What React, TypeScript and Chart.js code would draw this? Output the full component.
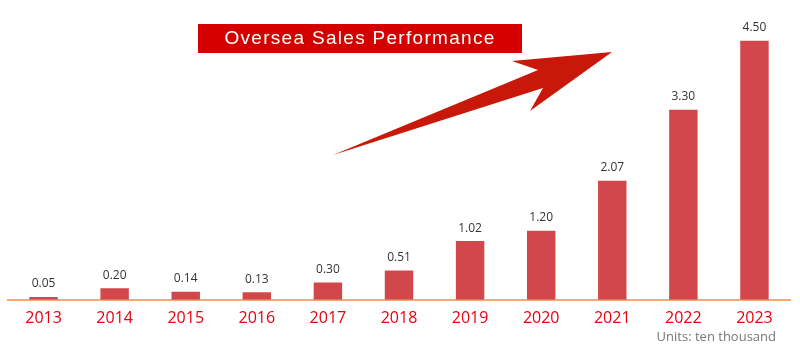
import React, { useEffect, useRef } from "react";
import { Chart, registerables } from "chart.js";

Chart.register(...registerables);

const years = ["2013", "2014", "2015", "2016", "2017", "2018", "2019", "2020", "2021", "2022", "2023"];
const sales = [0.05, 0.2, 0.14, 0.13, 0.3, 0.51, 1.02, 1.2, 2.07, 3.3, 4.5];
const titleText = "Oversea Sales Performance";
const unitsText = "Units: ten thousand";

const decoPlugin = {
  id: "deco",
  afterDatasetsDraw(chart: any) {
    const ctx = chart.ctx as CanvasRenderingContext2D;
    // value labels
    const meta = chart.getDatasetMeta(0);
    ctx.save();
    ctx.font = "12px 'Open Sans', sans-serif";
    ctx.fillStyle = "#333333";
    ctx.textAlign = "center";
    ctx.textBaseline = "middle";
    meta.data.forEach((bar: any, i: number) => {
      ctx.fillText(sales[i].toFixed(2), bar.x, bar.y - 13);
    });
    ctx.restore();

    // title box
    ctx.save();
    ctx.fillStyle = "#d40000";
    ctx.fillRect(198, 24, 324, 29);
    ctx.fillStyle = "#ffffff";
    ctx.font = "19px 'Liberation Sans', Arial, sans-serif";
    (ctx as any).letterSpacing = "1.3px";
    ctx.textAlign = "center";
    ctx.textBaseline = "middle";
    ctx.fillText(titleText, 360, 39);
    ctx.restore();

    // arrow
    ctx.save();
    ctx.fillStyle = "#c8180a";
    ctx.beginPath();
    ctx.moveTo(333, 155);
    ctx.lineTo(538, 70);
    ctx.lineTo(512, 61);
    ctx.lineTo(612, 52);
    ctx.lineTo(530, 111);
    ctx.lineTo(543, 88);
    ctx.closePath();
    ctx.fill();
    ctx.restore();

    // units
    ctx.save();
    ctx.fillStyle = "#777777";
    ctx.font = "13px 'Open Sans', sans-serif";
    ctx.textAlign = "right";
    ctx.textBaseline = "middle";
    ctx.fillText(unitsText, 776, 337);
    ctx.restore();
  },
};

export default function App() {
  const ref = useRef<HTMLCanvasElement | null>(null);
  useEffect(() => {
    if (!ref.current) return;
    const chart = new Chart(ref.current, {
      type: "bar",
      data: {
        labels: years,
        datasets: [
          {
            data: sales,
            backgroundColor: "#d2474b",
            barPercentage: 0.4,
            categoryPercentage: 1,
          },
        ],
      },
      options: {
        animation: false,
        responsive: false,
        maintainAspectRatio: false,
        layout: { padding: { left: 8, right: 10, top: 12, bottom: 15 } },
        plugins: { legend: { display: false }, tooltip: { enabled: false } },
        scales: {
          x: {
            grid: { display: false, drawTicks: false },
            border: { color: "#f6a877", width: 2 },
            ticks: {
              color: "#e60012",
              padding: 9,
              font: { size: 16, family: "'Open Sans', sans-serif" },
            },
          },
          y: {
            display: false,
            min: 0,
            max: 5,
          },
        },
      },
      plugins: [decoPlugin],
    });
    return () => chart.destroy();
  }, []);
  return (
    <div style={{ position: "fixed", left: 0, top: 0, width: 800, height: 352, background: "#fff" }}>
      <canvas ref={ref} width={800} height={352} style={{ width: 800, height: 352 }} />
    </div>
  );
}
